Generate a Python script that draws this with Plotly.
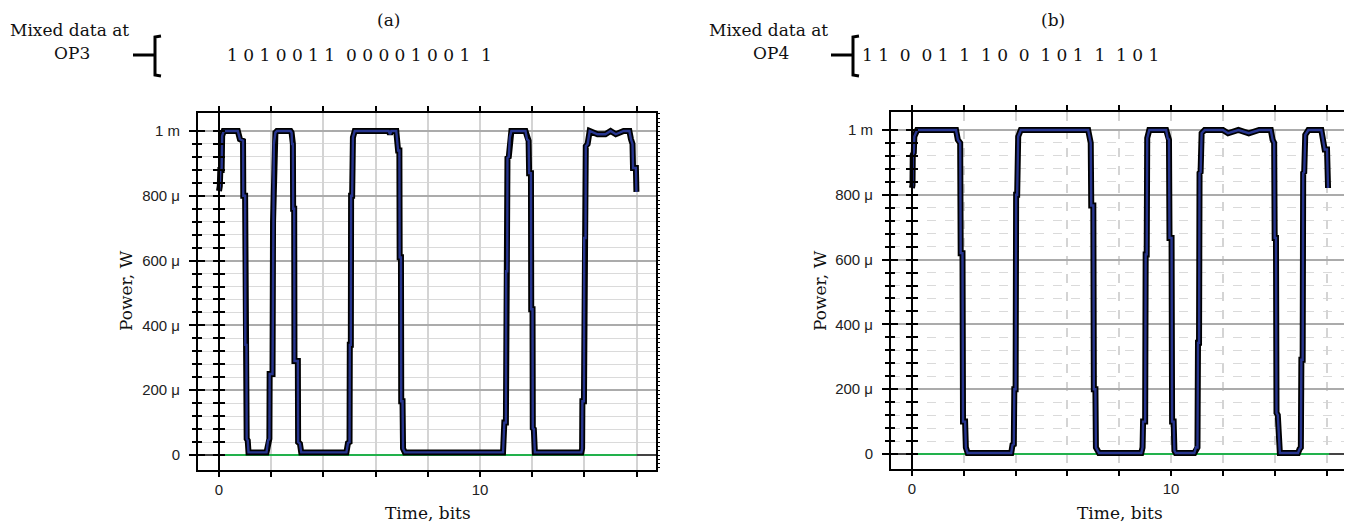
import plotly.graph_objects as go
import numpy as np

# ---------------- data (time in bits, power in mW) ----------------
t_a = [0.00, 0.03, 0.05, 0.10, 0.12, 0.18, 0.72, 0.80, 0.92, 0.93, 1.00, 1.01, 1.05, 1.06, 1.10, 1.13,
       1.82, 1.88, 1.93, 1.94, 2.05, 2.07, 2.10, 2.16, 2.22, 2.74, 2.78, 2.80, 2.83, 2.84, 2.88, 2.89,
       3.02, 3.03, 3.10, 3.15, 4.88, 4.94, 5.00, 5.01, 5.05, 5.06, 5.10, 5.13, 5.20, 6.50, 6.55, 6.60,
       6.79, 6.86, 6.91, 6.92, 6.97, 6.98, 7.03, 7.05, 7.12, 10.88, 10.93, 10.99, 11.00, 11.04, 11.05,
       11.10, 11.14, 11.20, 11.74, 11.80, 11.86, 11.88, 11.95, 11.96, 12.01, 12.02, 12.06, 12.10,
       13.88, 13.91, 13.92, 13.98, 13.99, 14.04, 14.05, 14.12, 14.20, 14.50, 14.80, 15.00, 15.20,
       15.50, 15.72, 15.78, 15.84, 15.86, 15.97, 15.99]
p_a = [0.815, 0.830, 0.880, 0.880, 0.985, 1.000, 1.000, 0.975, 0.970, 0.800, 0.800, 0.340, 0.340, 0.050, 0.045, 0.008,
       0.008, 0.045, 0.050, 0.250, 0.250, 0.720, 0.960, 0.995, 1.000, 1.000, 0.995, 0.960, 0.960, 0.760, 0.760, 0.290,
       0.290, 0.040, 0.035, 0.008, 0.008, 0.037, 0.040, 0.340, 0.340, 0.800, 0.800, 0.980, 1.000, 1.000, 0.990, 1.000,
       1.000, 0.940, 0.940, 0.610, 0.610, 0.166, 0.166, 0.020, 0.008, 0.008, 0.100, 0.100, 0.567, 0.567, 0.917,
       0.920, 0.980, 1.000, 1.000, 0.975, 0.970, 0.870, 0.870, 0.450, 0.450, 0.083, 0.080, 0.008,
       0.008, 0.020, 0.166, 0.166, 0.670, 0.670, 0.953, 0.960, 1.000, 0.990, 0.990, 1.000, 0.990,
       1.000, 1.000, 0.975, 0.960, 0.886, 0.886, 0.812]

t_b = [0.00, 0.02, 0.03, 0.07, 0.09, 0.20, 1.70, 1.77, 1.86, 1.88, 1.95, 1.97, 2.05, 2.08, 2.15,
       3.83, 3.88, 3.93, 3.95, 4.00, 4.02, 4.06, 4.10, 4.20, 6.80, 6.86, 6.90, 6.92, 7.00, 7.02, 7.08,
       7.10, 7.22, 8.85, 8.90, 8.92, 9.00, 9.02, 9.06, 9.08, 9.16, 9.81, 9.87, 9.92, 9.94, 10.02, 10.04,
       10.10, 10.13, 10.18, 10.90, 10.96, 11.02, 11.04, 11.08, 11.10, 11.14, 11.18, 11.30, 12.00, 12.20,
       12.60, 13.00, 13.40, 13.85, 13.92, 13.98, 14.00, 14.05, 14.07, 14.12, 14.20, 14.90, 14.96, 15.01,
       15.03, 15.08, 15.10, 15.14, 15.18, 15.30, 15.80, 15.86, 15.93, 16.02, 16.04, 16.06]
p_b = [0.821, 0.830, 0.924, 0.930, 0.980, 1.000, 1.000, 0.970, 0.960, 0.620, 0.620, 0.100, 0.100, 0.020, 0.003,
       0.003, 0.028, 0.030, 0.200, 0.200, 0.800, 0.800, 0.980, 1.000, 1.000, 0.970, 0.960, 0.767, 0.767, 0.200, 0.200,
       0.020, 0.003, 0.003, 0.020, 0.100, 0.100, 0.616, 0.616, 0.975, 1.000, 1.000, 0.975, 0.970, 0.667, 0.667, 0.100,
       0.100, 0.010, 0.003, 0.003, 0.020, 0.020, 0.343, 0.343, 0.867, 0.870, 0.990, 1.000, 1.000, 0.990,
       1.000, 0.990, 1.000, 1.000, 0.970, 0.960, 0.667, 0.667, 0.127, 0.120, 0.003, 0.003, 0.015, 0.020,
       0.291, 0.291, 0.867, 0.870, 0.985, 1.000, 1.000, 0.975, 0.940, 0.940, 0.821, 0.821]

ref_t_a = [0, 16]
ref_t_b = [0, 16.1]
ref_p = [0, 0]

bits_a = "1 0 1 0 0 1 1  0 0 0 0 1 0 0 1  1"
bits_b = "1 1  0  0 1  1  1 0  0  1 0 1  1  1 0 1"

y_tickvals = [0, 200e-6, 400e-6, 600e-6, 800e-6, 1e-3]
y_ticktext = ["0", "200 \u03bc", "400 \u03bc", "600 \u03bc", "800 \u03bc", "1 m"]
x_tickvals = [0, 2, 4, 6, 8, 10, 12, 14, 16]
x_ticktext = ["0", "", "", "", "", "10", "", "", ""]

# ---------------- geometry helpers ----------------
W, H = 1352, 523
def fx(px):
    return px / W
def fy(py):
    return 1 - py / H

SERIF = "DejaVu Serif"
SANS = "Liberation Sans"
BLUE = "#27358f"

panels = [
    dict(name="a", t=t_a, p=p_a, rt=ref_t_a, box=(190, 648, 105, 462), x0=211, xr=(-0.805, 16.74),
         yr=(-0.0463e-3, 1.0556e-3), ax=("x", "y", "y3", "y5", "y7", "y9"), dash="solid"),
    dict(name="b", t=t_b, p=p_b, rt=ref_t_b, box=(883, 1340, 104, 461), x0=904, xr=(-0.81, 16.83),
         yr=(-0.0463e-3, 1.0556e-3), ax=("x2", "y2", "y4", "y6", "y8", "y10"), dash="dash"),
]

fig = go.Figure()
layout = dict(width=W, height=H, margin=dict(l=0, r=0, t=0, b=0),
              paper_bgcolor="white", plot_bgcolor="white", showlegend=False)

def axkey(a):
    return a[0] + "axis" + a[1:]

for pn in panels:
    xa, ya, yin, y0o, y0i, yr_ = pn["ax"]
    L, R, T, B = pn["box"]
    xdom = [fx(L), fx(R)]
    ydom = [fy(B), fy(T)]
    tt = np.array(pn["t"])
    pp = np.array(pn["p"]) * 1e-3
    fig.add_trace(go.Scatter(x=pn["rt"], y=ref_p, mode="lines", line=dict(color="#22b14c", width=2),
                             xaxis=xa, yaxis=ya, hoverinfo="skip"))
    fig.add_trace(go.Scatter(x=tt, y=pp, mode="lines", line=dict(color="black", width=6),
                             xaxis=xa, yaxis=ya, hoverinfo="skip"))
    fig.add_trace(go.Scatter(x=tt, y=pp, mode="lines", line=dict(color=BLUE, width=2.4),
                             xaxis=xa, yaxis=ya, hoverinfo="skip"))
    for extra in (yin, y0o, y0i, yr_):
        fig.add_trace(go.Scatter(x=[None], y=[None], xaxis=xa, yaxis=extra, hoverinfo="skip"))

    layout[axkey(xa)] = dict(domain=xdom, range=list(pn["xr"]), anchor=ya, tickmode="array",
                             tickvals=x_tickvals, ticktext=x_ticktext, ticks="outside", ticklen=5,
                             tickwidth=1.5, tickcolor="black", showline=True, linecolor="black",
                             linewidth=2, mirror="ticks", showgrid=True, gridcolor="#d4d4d4",
                             gridwidth=2, griddash=pn["dash"], zeroline=False,
                             tickfont=dict(family=SANS, size=15, color="#222"))
    mtick = [v * 1e-6 for v in range(40, 1040, 40)]
    minor = dict(tickvals=mtick, ticks="outside", ticklen=4,
                 tickwidth=2, tickcolor="black", showgrid=True, gridcolor="#dadada",
                 gridwidth=1, griddash=pn["dash"])
    layout[axkey(ya)] = dict(domain=ydom, range=list(pn["yr"]), anchor=xa, tickmode="array",
                             tickvals=y_tickvals, ticktext=y_ticktext, ticks="outside", ticklen=7,
                             tickwidth=2, tickcolor="black", showline=True, linecolor="black",
                             linewidth=2, mirror=True, showgrid=True, gridcolor="#ababab",
                             gridwidth=1.5, zeroline=True, zerolinecolor="#444", zerolinewidth=1.5,
                             minor=minor, ticklabelstandoff=6,
                             tickfont=dict(family=SANS, size=15, color="#222"))
    common = dict(range=list(pn["yr"]), tickmode="array", tickvals=y_tickvals,
                  showticklabels=False, showgrid=False, zeroline=False, tickcolor="black")
    layout[axkey(yin)] = dict(common, overlaying=ya, anchor=xa, side="left", ticks="inside",
                              ticklen=7, tickwidth=2, showline=False,
                              minor=dict(tickvals=mtick, ticks="inside", ticklen=4, tickwidth=2,
                                         tickcolor="black"))
    pos0 = fx(pn["x0"])
    layout[axkey(y0o)] = dict(common, overlaying=ya, anchor="free", position=pos0, side="left",
                              ticks="outside", ticklen=5, tickwidth=2, showline=True,
                              linecolor="black", linewidth=2,
                              minor=dict(tickvals=mtick, ticks="outside", ticklen=5, tickwidth=2,
                                         tickcolor="black"))
    layout[axkey(y0i)] = dict(common, overlaying=ya, anchor="free", position=pos0, side="left",
                              ticks="inside", ticklen=5, tickwidth=2, showline=False,
                              minor=dict(tickvals=mtick, ticks="inside", ticklen=5, tickwidth=2,
                                         tickcolor="black"))
    layout[axkey(yr_)] = dict(range=list(pn["yr"]), overlaying=ya, anchor=xa, side="right",
                              tickmode="linear", tick0=0, dtick=40e-6 / 3, ticks="outside",
                              ticklen=3, tickwidth=1, tickcolor="black", showticklabels=False,
                              showgrid=False, zeroline=False, showline=False)

fig.update_layout(**layout)

# ---------------- annotations ----------------
def ann(text, x, y, size=17, family=SERIF, angle=0, xanchor="center"):
    fig.add_annotation(text=text, x=fx(x), y=fy(y), xref="paper", yref="paper", showarrow=False,
                       font=dict(family=family, size=size, color="#111"), textangle=angle,
                       xanchor=xanchor, yanchor="middle", borderpad=0)

header = [
    dict(label="(a)", lx=380, mx=61, op="OP3", bx=147, bits=bits_a, bits_x=218),
    dict(label="(b)", lx=1045, mx=760, op="OP4", bx=845, bits=bits_b, bits_x=853),
]
for h in header:
    ann(h["label"], h["lx"], 12)
    ann("Mixed data at", h["mx"], 22)
    ann(h["op"], h["mx"] + 3, 45)
    ann(h["bits"].replace("  ", "\u00a0\u00a0"), h["bits_x"], 47, xanchor="left")
    bx = h["bx"]
    path = (f"M {fx(bx + 6)},{fy(28)} L {fx(bx)},{fy(29)} L {fx(bx)},{fy(47)} "
            f"L {fx(bx - 22)},{fy(47)} M {fx(bx)},{fy(47)} L {fx(bx)},{fy(67)} L {fx(bx + 6)},{fy(68)}")
    fig.add_shape(type="path", path=path, xref="paper", yref="paper",
                  line=dict(color="black", width=3))

ann("Power, W", 118, 283, size=17, angle=-90)
ann("Power, W", 812, 283, size=17, angle=-90)
ann("Time, bits", 420, 505, size=17)
ann("Time, bits", 1112, 505, size=17)

fig.write_html("out.html")
